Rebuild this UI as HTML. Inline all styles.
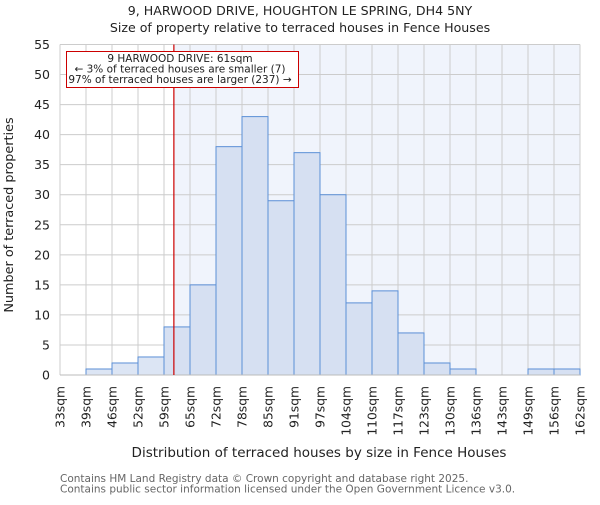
<!DOCTYPE html>
<html><head><meta charset="utf-8"><style>
body{margin:0;background:#fff}
text{font-family:"DejaVu Sans","Liberation Sans",sans-serif;fill:#222}
</style></head><body>
<svg id="c" width="600" height="500" xmlns="http://www.w3.org/2000/svg">
<text x="300" y="15" text-anchor="middle" font-size="12.6">9, HARWOOD DRIVE, HOUGHTON LE SPRING, DH4 5NY</text>
<text x="300" y="32" text-anchor="middle" font-size="12.6">Size of property relative to terraced houses in Fence Houses</text>
<g id="plot"></g>
<text x="319" y="457" text-anchor="middle" font-size="13.5">Distribution of terraced houses by size in Fence Houses</text>
<text transform="translate(13,215) rotate(-90)" text-anchor="middle" font-size="12.8">Number of terraced properties</text>
<text x="60" y="482" font-size="10.5" style="fill:#666">Contains HM Land Registry data © Crown copyright and database right 2025.</text>
<text x="60" y="492.5" font-size="10.5" style="fill:#666">Contains public sector information licensed under the Open Government Licence v3.0.</text>
</svg>
<script>
const binLabels=["33sqm","39sqm","46sqm","52sqm","59sqm","65sqm","72sqm","78sqm","85sqm","91sqm","97sqm","104sqm","110sqm","117sqm","123sqm","130sqm","136sqm","143sqm","149sqm","156sqm","162sqm"];
const counts=[0,1,2,3,8,15,38,43,29,37,30,12,14,7,2,1,0,0,1,1];
const yTicks=[0,5,10,15,20,25,30,35,40,45,50,55];
const markerPos=4.38;
const L=60,R=580,T=44.5,B=375,yMax=55;
const NS="http://www.w3.org/2000/svg";
const g=document.getElementById('plot');
const bw=(R-L)/counts.length;
const x=i=>L+i*bw;
const y=v=>B-(v/yMax)*(B-T);
function mk(t,a){const e=document.createElementNS(NS,t);for(const k in a)e.setAttribute(k,a[k]);g.appendChild(e);return e;}
const mx=x(markerPos);
let bg=mk('rect',{x:mx,y:T,width:R-mx,height:B-T,fill:'#f0f4fc'});


yTicks.forEach(v=>{let l=mk('line',{x1:L,x2:R,y1:y(v),y2:y(v),stroke:'#ccc','stroke-width':1});


let t=mk('text',{x:L-10,y:y(v)+4.5,'text-anchor':'end','font-size':'12.5'});t.textContent=v;

});
binLabels.forEach((s,i)=>{let l=mk('line',{x1:x(i),x2:x(i),y1:T,y2:B,stroke:'#ccc','stroke-width':1});


let t=mk('text',{transform:`translate(${x(i)+4.5},386) rotate(-90)`,'text-anchor':'end','font-size':'12.3'});t.textContent=s;

});
counts.forEach((v,i)=>{if(v<=0)return;const left=i+1<=markerPos;
let r=mk('rect',{x:x(i),y:y(v),width:bw,height:B-y(v),fill:left?'#dce5f4':'#d6e0f2',stroke:'#5b8fd6','stroke-width':1});

});
let ax=mk('line',{x1:L,x2:R,y1:B,y2:B,stroke:'#bbb'});


let ml=mk('line',{x1:mx,x2:mx,y1:T,y2:B,stroke:'#cc0000','stroke-width':1.2});


let bx=mk('rect',{x:66.5,y:51.5,width:232,height:36,fill:'#fff',stroke:'#cc0000','stroke-width':1});


["9 HARWOOD DRIVE: 61sqm","← 3% of terraced houses are smaller (7)","97% of terraced houses are larger (237) →"].forEach((s,i)=>{
let t=mk('text',{x:180,y:62+i*10.5,'text-anchor':'middle','font-size':'10.5'});t.textContent=s;

});
</script>
</body></html>
